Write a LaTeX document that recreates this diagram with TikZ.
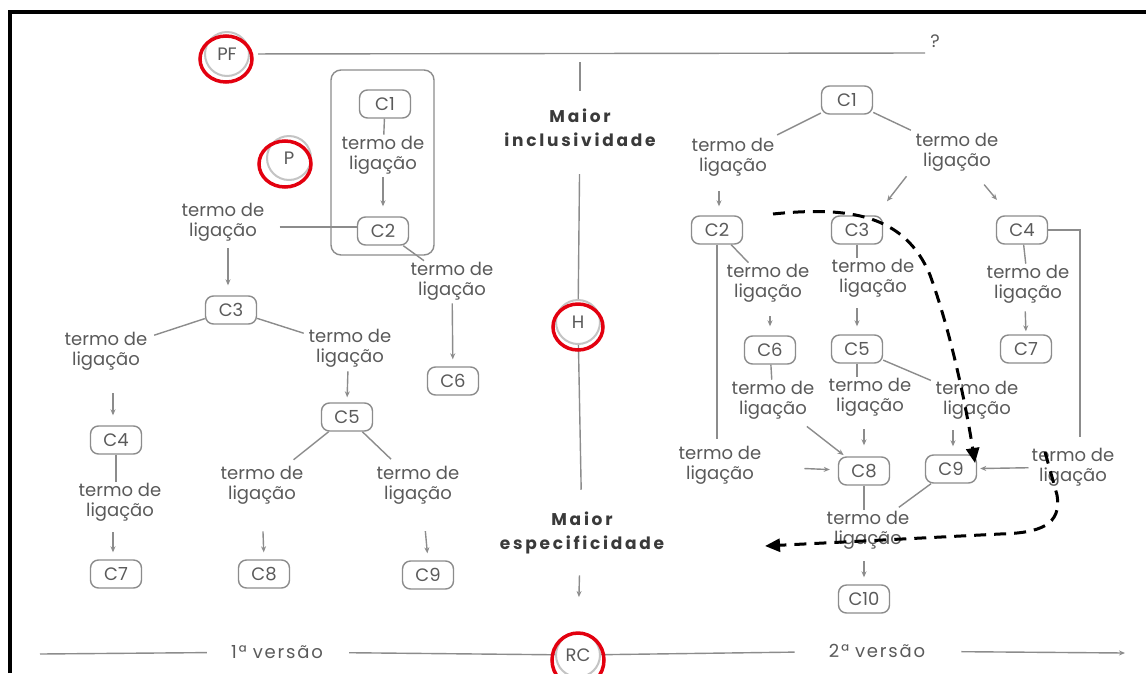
\documentclass[tikz,border=0pt]{standalone}
\usepackage{fontspec}
\setmainfont{Poppins}
\newfontfamily\lblfont{Poppins}
\usetikzlibrary{arrows.meta}
\definecolor{txtgray}{HTML}{5A5A5A}
\definecolor{boldgray}{HTML}{3A3A3A}
\definecolor{lngray}{HTML}{8C8C8C}
\definecolor{boxgray}{HTML}{8C8C8C}
\definecolor{circgray}{HTML}{C4C4C4}
\definecolor{redmark}{HTML}{E3000F}
\newcommand{\lblsize}{\lblfont\fontsize{18}{20}\selectfont}
\newcommand{\boldsize}{\lblfont\bfseries\fontsize{17}{24}\selectfont\addfontfeature{LetterSpace=16}}
\newcommand{\versize}{\lblfont\fontsize{18}{20}\selectfont\addfontfeature{LetterSpace=10}}
\tikzset{
  cbox/.style={draw=boxgray, line width=1.4, rounded corners=8, minimum width=51, minimum height=28, inner sep=0, text=txtgray, font=\lblsize},
  lbl/.style={align=center, text=txtgray, font=\lblsize, inner sep=1},
  ln/.style={draw=lngray, line width=1.4},
  arr/.style={ln, -{Stealth[length=6, width=5]}},
  big/.style={align=center, text=boldgray, font=\boldsize, inner sep=1},
  ver/.style={text=txtgray, font=\versize, inner sep=1},
  ring/.style={circle, draw=circgray, line width=2, minimum size=44, inner sep=0, text=txtgray, font=\lblsize},
  redring/.style={draw=redmark, line width=3.5},
  dashpath/.style={draw=black, line width=3, dash pattern=on 12pt off 8pt, -{Triangle[length=15, width=13]}},
}
\begin{document}
\begin{tikzpicture}[x=1pt,y=-1pt]
\useasboundingbox (0,0) rectangle (1146,673);
\fill[white] (0,0) rectangle (1146,673);
% frame
\draw[black, line width=4] (10,673) -- (10,12) -- (1146,12);

% ---------- left (1a versao) ----------
\node[ring] (PF) at (227,54) {PF};
\node[ring] (P) at (289,158) {P};
\node[lbl] (Q) at (935,41) {?};
\coordinate (topend) at (925,53);
\draw[ln, shorten <=8] (PF) -- (topend);

\node[draw=boxgray, line width=1.4, rounded corners=10, minimum width=103, minimum height=185, inner sep=0] (grp) at (382.5,162.5) {};
\node[cbox] (c1l) at (385,104) {C1};
\node[lbl] (t1) at (383,155) {termo de\\ligação};
\node[cbox] (c2l) at (383,231) {C2};
\node[lbl] (t2) at (223,222) {termo de\\ligação};
\node[lbl] (t3) at (452,281) {termo de\\ligação};
\node[cbox] (c6l) at (453,381) {C6};
\node[cbox] (c3l) at (231,310) {C3};
\node[lbl] (t4) at (106,351) {termo de\\ligação};
\node[lbl] (t5) at (350,348) {termo de\\ligação};
\node[cbox] (c4l) at (116,440) {C4};
\node[lbl] (t6) at (120,502) {termo de\\ligação};
\node[cbox] (c7l) at (116,574) {C7};
\node[cbox] (c5l) at (347,417) {C5};
\node[lbl] (t7) at (262,485) {termo de\\ligação};
\node[lbl] (t8) at (418,485) {termo de\\ligação};
\node[cbox] (c8l) at (264,574) {C8};
\node[cbox] (c9l) at (428,575) {C9};

\draw[ln] (c1l) -- (t1);
\draw[arr, shorten <=2, shorten >=10] (t1) -- (c2l);
\draw[ln, shorten <=14] ([yshift=-5]t2.east) -- ([yshift=4]c2l.west);
\draw[arr, shorten <=6, shorten >=10] ([xshift=5]t2.south) -- ([xshift=-3]c3l.north);
\draw[ln] (c2l) -- (t3);
\draw[arr, shorten <=2, shorten >=7] (t3) -- (c6l);
\draw[ln, shorten >=6] (c3l) -- (t4);
\draw[ln, shorten >=4] (c3l) -- (t5);
\draw[arr, shorten <=22, shorten >=10] ([xshift=7]t4.south) -- ([xshift=-3]c4l.north);
\draw[ln] (c4l.south) -- (c4l.south |- t6.north);
\draw[arr, shorten <=10, shorten >=7] ([xshift=-7]t6.south) -- ([xshift=-3]c7l.north);
\draw[arr, shorten <=3, shorten >=5] ([xshift=-2]t5.south) -- (c5l.north);
\draw[ln, shorten >=8] (c5l) -- (t7);
\draw[ln, shorten >=8] (c5l) -- (t8);
\draw[arr, shorten <=26, shorten >=7] (t7.south) -- (c8l.north);
\draw[arr, shorten <=26, shorten >=7] ([xshift=5]t8.south) -- (c9l.north);

% ---------- middle axis ----------
\coordinate (vt) at (580,62);
\node[big] (mi) at (580,128) {Maior\\inclusividade};
\node[ring] (H) at (578,322) {H};
\node[big] (me) at (582,533) {Maior\\especificidade};
\node[ring] (RC) at (578,655) {RC};
\draw[ln, shorten >=17] (vt) -- (mi);
\draw[ln, shorten <=26] (mi) -- (H);
\draw[ln, shorten >=21] (H) -- (me);
\draw[arr, shorten <=20, shorten >=35] ([xshift=-2]me.south) -- (RC.north);

\coordinate (bl) at (40,654);
\node[ver] (v1) at (277,652) {1ª\hspace{6pt}versão};
\node[ver] (v2) at (877,651) {2ª\hspace{6pt}versão};
\coordinate (br) at (1125,653);
\draw[ln, shorten >=23] (bl) -- (v1);
\draw[ln, shorten <=25] (v1) -- (RC);
\draw[ln, shorten >=33] (RC) -- (v2);
\draw[arr, shorten <=35] (v2) -- (br);

% ---------- right (2a versao) ----------
\node[cbox] (c1r) at (847,100) {C1};
\node[lbl] (t9) at (733,157) {termo de\\ligação};
\node[lbl] (t10) at (957,152) {termo de\\ligação};
\node[cbox] (c2r) at (717,230) {C2};
\node[cbox] (c3r) at (857,230) {C3};
\node[cbox] (c4r) at (1022,230) {C4};
\node[lbl] (t14) at (768,283) {termo de\\ligação};
\node[lbl] (t16) at (873,278) {termo de\\ligação};
\node[lbl] (t12) at (1028,284) {termo de\\ligação};
\node[cbox] (c6r) at (770,350) {C6};
\node[cbox] (c5r) at (857,349) {C5};
\node[cbox] (c7r) at (1026,349) {C7};
\node[lbl] (t15) at (773,400) {termo de\\ligação};
\node[lbl] (t17) at (870,397) {termo de\\ligação};
\node[lbl] (t18) at (977,400) {termo de\\ligação};
\node[lbl] (t13) at (720,465) {termo de\\ligação};
\node[lbl] (t11) at (1073,467) {termo de\\ligação};
\node[cbox] (c8r) at (864,471) {C8};
\node[cbox] (c9r) at (951,469) {C9};
\node[lbl] (t19) at (868,530) {termo de\\ligação};
\node[cbox] (c10r) at (864,599) {C10};

\draw[ln, shorten >=4] (c1r) -- (t9);
\draw[ln, shorten >=4] (c1r) -- (t10);
\draw[arr, shorten <=14, shorten >=9] ([xshift=-14]t9.south) -- ([xshift=2]c2r.north);
\draw[arr] ([xshift=-8,yshift=-4]t10.south west) -- ([xshift=30,yshift=14]c3r.north);
\draw[arr, shorten <=16, shorten >=20] (t10) -- (c4r);
\draw[ln, shorten >=10] (c4r.east) -| ([xshift=7]t11.north);
\draw[arr, shorten <=2, shorten >=3] (t11) -- (c9r);
\draw[ln] (c4r) -- (t12);
\draw[arr, shorten <=7, shorten >=3] ([xshift=-3]t12.south) -- (c7r.north);
\draw[ln, shorten >=6] (c2r.south) -- (c2r.south |- t13.north);
\draw[arr, shorten <=42, shorten >=8] (t13) -- (c8r);
\draw[ln] (c2r) -- (t14);
\draw[arr, shorten <=13, shorten >=9] ([xshift=2]t14.south) -- (c6r.north);
\draw[ln] (c6r) -- (t15);
\draw[arr, shorten <=10, shorten >=2] (t15) -- (c8r);
\draw[ln] (c3r) -- (c3r |- t16.north);
\draw[arr, shorten <=10, shorten >=8] (c5r |- t16.south) -- (c5r.north);
\draw[ln] (c5r) -- (c5r |- t17.north);
\draw[ln, shorten >=4] (c5r) -- (t18);
\draw[arr, shorten <=12, shorten >=11] (c8r |- t17.south) -- (c8r.north);
\draw[arr, shorten <=10, shorten >=8] ([xshift=2]c9r.north |- t18.south) -- ([xshift=2]c9r.north);
\draw[ln] (c8r) -- (c8r |- t19.north);
\draw[ln, shorten >=4] (c9r) -- (t19);
\draw[arr, shorten <=11, shorten >=7] (c10r |- t19.south) -- (c10r.north);

% ---------- marks ----------
\draw[redring] ([xshift=-1,yshift=-5]PF.center) ellipse [x radius=26, y radius=23];
\draw[redring] ([xshift=-4,yshift=-6]P.center) ellipse [x radius=26, y radius=23];
\draw[redring] ([yshift=-5]H.center) ellipse [x radius=25, y radius=23];
\draw[redring] ([yshift=-5]RC.center) ellipse [x radius=26, y radius=27];

\coordinate (d1s) at (773,214);
\coordinate (d1e) at (975,463);
\draw[dashpath] (d1s) .. controls (850,206) and (905,215) .. (930,275) .. controls (950,330) and (965,400) .. (d1e);
\coordinate (d2s) at (1045,452);
\coordinate (d2e) at (765,546);
\draw[dashpath] (d2s) -- (1057,495) .. controls (1062,525) and (1040,533) .. (1000,534) -- (d2e);
\end{tikzpicture}
\end{document}
